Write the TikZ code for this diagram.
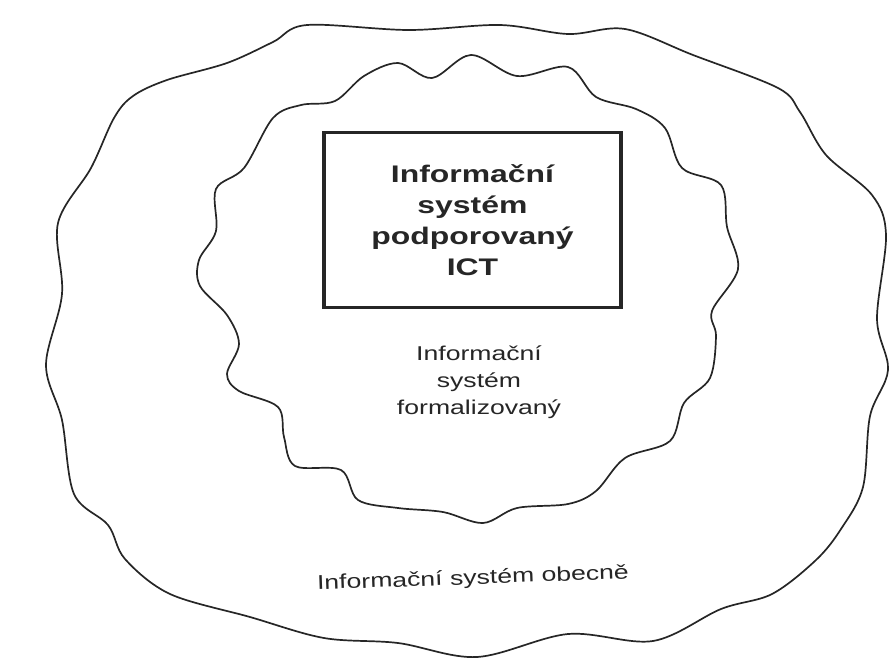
\documentclass[tikz,border=0pt]{standalone}
\usepackage{fontspec}
\setmainfont{Liberation Sans}
% scanned lettering is wider than Arial
\newfontfamily\scanfont[FakeStretch=1.33]{Liberation Sans}
\usetikzlibrary{%
    calc,%
    positioning%
}

\begin{document}
\begin{tikzpicture}[x=1pt,y=-1pt,
    wavy/.style={draw=black!85,line width=1.7pt,line join=round},
    layerlabel/.style={align=center,text=black!85,inner sep=0pt,
        font=\scanfont\fontsize{20}{27}\selectfont}]
    \useasboundingbox (0,0) rectangle (891,659);
    % Smoothing of the hand drawn outlines
    \pgfmathsetmacro{\tens}{0.55};

    % Outer outline (information system in general)
    \draw[wavy] plot[smooth cycle,tension=\tens] coordinates {%
        (307,25) (409,30) (500,25) (568,34) (625,29) (693,55) (778,88)
        (800,112) (826,155) (872,195) (886,235) (877,319) (888,370)
        (870,416) (863,487) (841,529) (816,560) (772,594) (721,609)
        (653,641) (568,634) (477,657) (398,643) (324,638) (250,617)
        (170,594) (125,559) (108,525) (74,494) (62,420) (46,365)
        (62,294) (58,223) (91,168) (114,118) (133,96) (167,80)
        (227,63) (273,42)};

    % Inner outline (formalised information system)
    \draw[wavy] plot[smooth cycle,tension=\tens] coordinates {%
        (364,76) (398,63) (432,78) (471,55) (517,76) (568,67) (596,97)
        (636,109) (665,128) (682,168) (721,185) (727,227) (738,269)
        (712,311) (716,336) (710,378) (684,403) (670,441) (625,458)
        (596,491) (568,504) (517,508) (483,523) (443,512) (398,508)
        (358,500) (341,470) (295,466) (284,437) (278,407) (239,391)
        (227,374) (239,344) (227,315) (200,286) (199,260) (216,231)
        (216,189) (244,168) (273,118) (301,105) (335,101)};

    % Core box (system supported by ICT)
    \node[draw=black!85,line width=3.4pt,minimum width=297pt,minimum height=175pt,
        align=center,text=black!85,font=\scanfont\bfseries\fontsize{24}{31}\selectfont]
        (ictbox) at (472.5,220) {Informační\\systém\\podporovaný\\ICT};

    % Labels of the two outer layers
    \node[layerlabel] (formallabel) at (479,382) {Informační\\systém\\formalizovaný};
    \node[layerlabel,rotate=2] (generallabel) at (473,579) {Informační systém obecně};
\end{tikzpicture}
\end{document}
